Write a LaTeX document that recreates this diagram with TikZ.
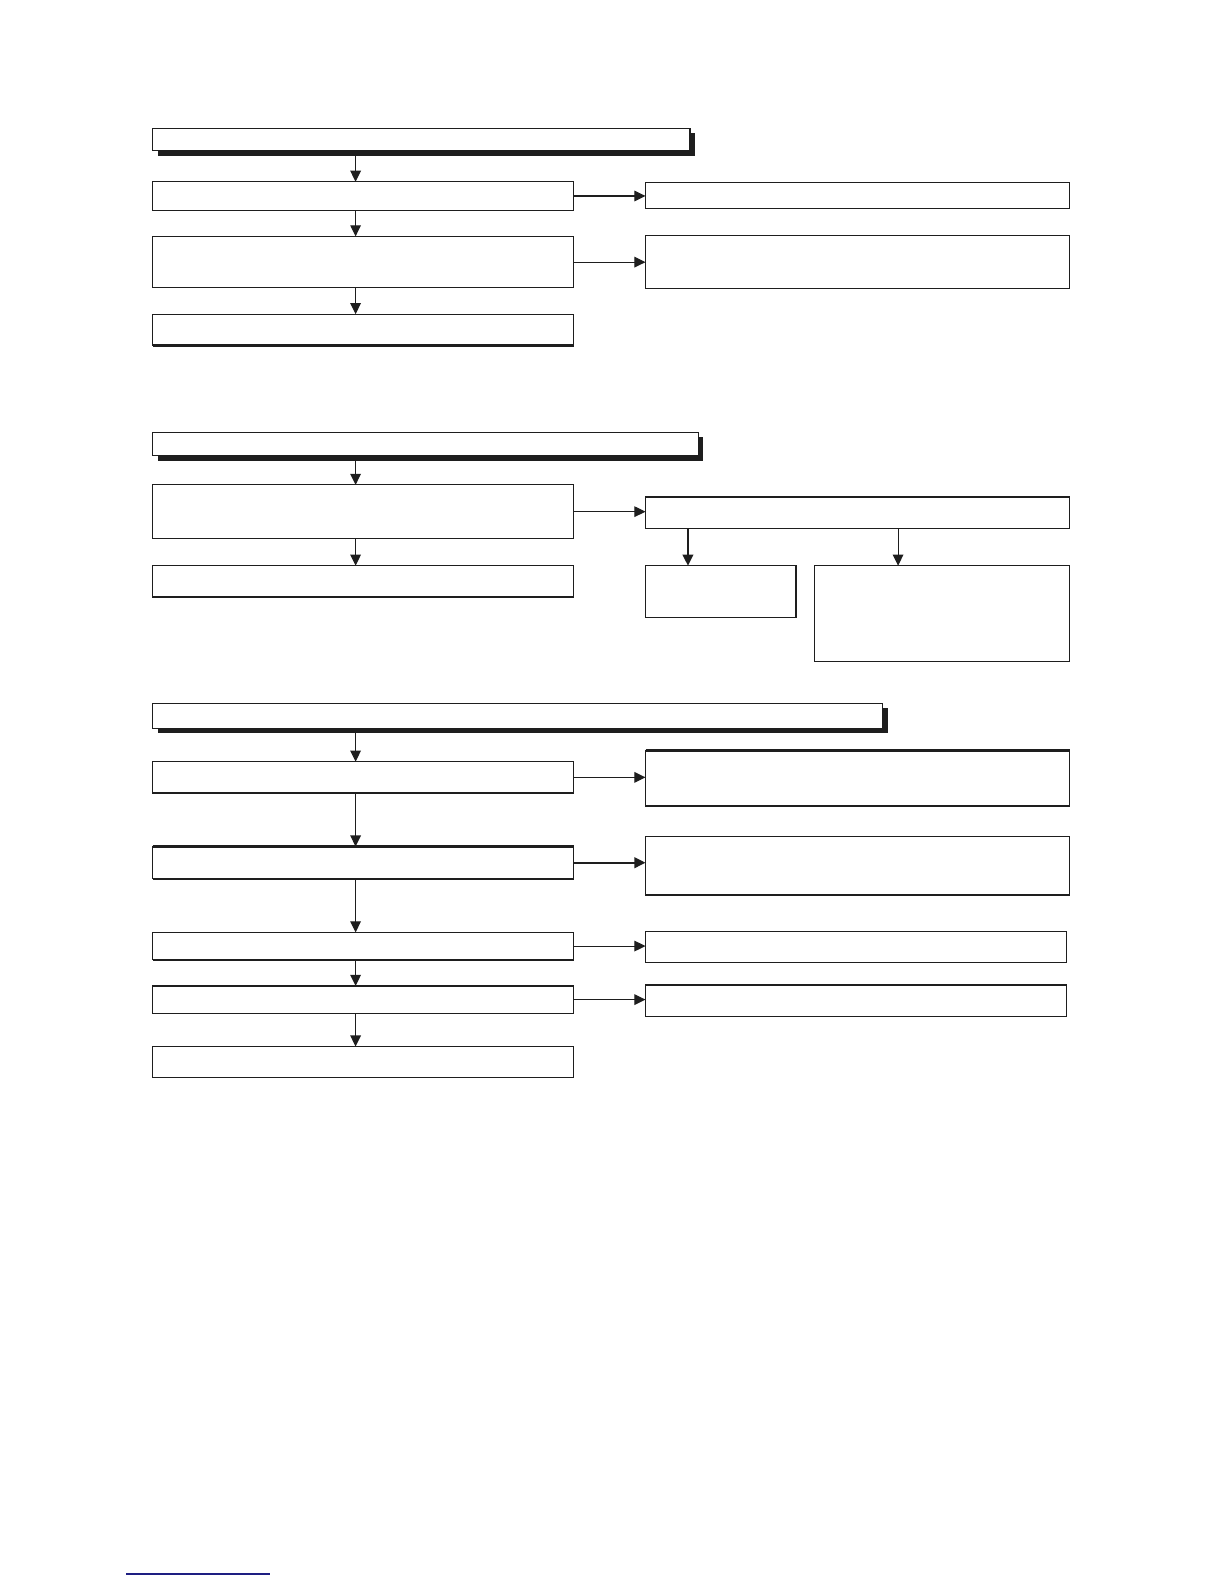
\documentclass[tikz,border=0pt]{standalone}
\usetikzlibrary{arrows.meta,shadows}
\definecolor{ink}{RGB}{30,30,30}
\definecolor{navyline}{RGB}{30,30,130}
\begin{document}
\begin{tikzpicture}[x=1pt,y=1pt,
  box/.style={draw=ink, line width=1.1pt, fill=white, inner sep=0pt, outer sep=0pt, anchor=north west},
  head/.style={box, drop shadow={shadow xshift=5pt, shadow yshift=-5pt, fill=ink, opacity=1}},
  arr/.style={draw=ink, line width=1.1pt, -{Triangle[length=11pt,width=10.5pt]}},
  thickarr/.style={arr, line width=2pt},
  thickedge/.style={draw=ink, line width=2.2pt}]
\useasboundingbox (0,0) rectangle (1212,-1568);
\coordinate (col) at (352,0);
\coordinate (cola) at (681,0);
\coordinate (colb) at (889,0);

% ---------- section 1 ----------
\node[head, minimum width=532, minimum height=22] (h1) at (151,-127) {};
\node[box, minimum width=417, minimum height=28] (b1) at (151,-180) {};
\node[box, minimum width=420, minimum height=25] (r1) at (639,-181) {};
\node[box, minimum width=417, minimum height=51] (b2) at (151,-234) {};
\node[box, minimum width=420, minimum height=53] (r2) at (639,-233) {};
\node[box, minimum width=417, minimum height=31] (b3) at (151,-311) {};
\draw[thickedge] (b3.south west) -- (b3.south east);

\draw[arr] (h1.south -| col) -- (b1.north -| col);
\draw[arr] (b1.south -| col) -- (b2.north -| col);
\draw[arr] (b2.south -| col) -- (b3.north -| col);
\draw[arr] (b1.east) -- (b1.east -| r1.west);
\draw[arr] (b2.east) -- (b2.east -| r2.west);

% ---------- section 2 ----------
\node[head, minimum width=540, minimum height=23] (h2) at (151,-428) {};
\node[box, minimum width=417, minimum height=53] (c1) at (151,-480) {};
\node[box, minimum width=420, minimum height=31] (r3) at (639,-492) {};
\node[box, minimum width=417, minimum height=31] (c2) at (151,-560) {};
\node[box, minimum width=149, minimum height=51] (d1) at (639,-560) {};
\node[box, minimum width=253, minimum height=95] (d2) at (806,-560) {};

\draw[arr] (h2.south -| col) -- (c1.north -| col);
\draw[arr] (c1.south -| col) -- (c2.north -| col);
\draw[arr] (c1.east) -- (c1.east -| r3.west);
\draw[thickarr] (r3.south -| cola) -- (d1.north -| cola);
\draw[arr] (r3.south -| colb) -- (d2.north -| colb);

% ---------- section 3 ----------
\node[head, minimum width=723, minimum height=25] (h3) at (151,-696) {};
\node[box, minimum width=417, minimum height=31] (e1) at (151,-754) {};
\node[box, minimum width=420, minimum height=55] (f1) at (639,-743) {};
\draw[thickedge] (f1.north west) -- (f1.north east);
\draw[thickedge] (f1.south west) -- (f1.south east);
\node[box, minimum width=417, minimum height=32] (e2) at (151,-838) {};
\draw[thickedge] (e2.north west) -- (e2.north east);
\draw[thickedge] (e2.south west) -- (e2.south east);
\node[box, minimum width=420, minimum height=58] (f2) at (639,-828) {};
\node[box, minimum width=417, minimum height=27] (e3) at (151,-923) {};
\draw[thickedge] (e3.south west) -- (e3.south east);
\node[box, minimum width=417, minimum height=31] (f3) at (639,-922) {};
\node[box, minimum width=417, minimum height=27] (e4) at (151,-976) {};
\node[box, minimum width=417, minimum height=31] (f4) at (639,-975) {};
\node[box, minimum width=417, minimum height=31] (e5) at (151,-1036) {};

\draw[arr] (h3.south -| col) -- (e1.north -| col);
\draw[arr] (e1.south -| col) -- (e2.north -| col);
\draw[arr] (e2.south -| col) -- (e3.north -| col);
\draw[arr] (e3.south -| col) -- (e4.north -| col);
\draw[arr] (e4.south -| col) -- (e5.north -| col);
\draw[arr] (e1.east) -- (e1.east -| f1.west);
\draw[thickarr] (e2.east) -- (e2.east -| f2.west);
\draw[arr] (e3.east) -- (e3.east -| f3.west);
\draw[arr] (e4.east) -- (e4.east -| f4.west);

% ---------- footer rule ----------
\draw[navyline, line width=1.5pt] (125,-1558) -- (267,-1558);
\end{tikzpicture}
\end{document}
